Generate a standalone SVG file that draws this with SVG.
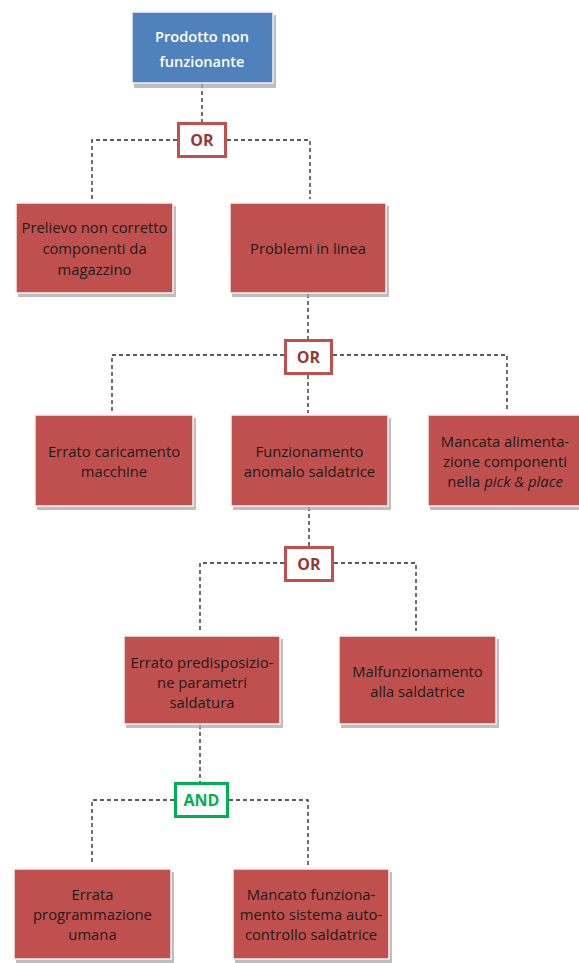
<svg xmlns="http://www.w3.org/2000/svg" width="579" height="963" viewBox="0 0 579 963">
<style>
.bg{fill:#ffffff}
.sh{fill:#a8a8a8;opacity:0.75}
.box{fill:#C0504D;stroke:#f4f4f4;stroke-width:1.5}
.top{fill:#4F81BD;stroke:#f4f4f4;stroke-width:1.5}
.t{font-family:"Open Sans","Liberation Sans",Arial,sans-serif;font-size:14.8px;fill:#1c1c1c;text-anchor:middle}
.tw{font-family:"Open Sans","Liberation Sans",Arial,sans-serif;font-size:14.6px;font-weight:600;fill:#ffffff;text-anchor:middle}
.gate{fill:#ffffff;stroke:#C0504D;stroke-width:3}
.gand{fill:#ffffff;stroke:#00B050;stroke-width:3}
.gt{font-family:"Open Sans","Liberation Sans",Arial,sans-serif;font-size:16px;font-weight:bold;fill:#953735;text-anchor:middle}
.ga{font-family:"Open Sans","Liberation Sans",Arial,sans-serif;font-size:16px;font-weight:bold;fill:#00B050;text-anchor:middle}
.c{fill:none;stroke:#262626;stroke-width:1.3;stroke-dasharray:4 3}
</style>
<rect class="bg" x="0" y="0" width="579" height="963"/>
<g id="connectors">
<path class="c" d="M202 84 V122"/>
<path class="c" d="M177 140 H92 V199"/>
<path class="c" d="M227 140 H310 V199"/>
<path class="c" d="M308 294 V339"/>
<path class="c" d="M284 355 H112 V412"/>
<path class="c" d="M333 355 H507 V409"/>
<path class="c" d="M308 375 V413"/>
<path class="c" d="M309 507 V546"/>
<path class="c" d="M284 563 H200 V631"/>
<path class="c" d="M334 563 H416 V631"/>
<path class="c" d="M200 725 V782"/>
<path class="c" d="M174 800 H92 V863"/>
<path class="c" d="M229 800 H308 V866"/>
</g>
<g id="n_top">
<rect class="sh" x="134" y="15" width="142" height="73"/>
<rect class="top" x="132" y="12" width="141" height="71"/>
<text class="tw" x="202" y="42">Prodotto non</text>
<text class="tw" x="202" y="67">funzionante</text>
</g>
<g id="g_or1">
<rect class="gate" x="178.5" y="123.5" width="47" height="33"/>
<text class="gt" x="202" y="146">OR</text>
</g>
<g id="n_prelievo">
<rect class="sh" x="18" y="206" width="158" height="91"/>
<rect class="box" x="16" y="203" width="157" height="90"/>
<text class="t" x="94.5" y="233">Prelievo non corretto</text>
<text class="t" x="94.5" y="254">componenti da</text>
<text class="t" x="94.5" y="275">magazzino</text>
</g>
<g id="n_problemi">
<rect class="sh" x="232" y="206" width="157" height="91"/>
<rect class="box" x="230" y="203" width="156" height="90"/>
<text class="t" x="308" y="254">Problemi in linea</text>
</g>
<g id="g_or2">
<rect class="gate" x="285.5" y="340.5" width="46" height="33"/>
<text class="gt" x="308.5" y="363">OR</text>
</g>
<g id="n_errato_car">
<rect class="sh" x="37" y="418" width="159" height="92"/>
<rect class="box" x="35" y="415" width="158" height="91"/>
<text class="t" x="114" y="457">Errato caricamento</text>
<text class="t" x="114" y="477">macchine</text>
</g>
<g id="n_funz">
<rect class="sh" x="233" y="418" width="158" height="92"/>
<rect class="box" x="231" y="415" width="157" height="91"/>
<text class="t" x="309.5" y="457">Funzionamento</text>
<text class="t" x="309.5" y="477">anomalo saldatrice</text>
</g>
<g id="n_mancata">
<rect class="sh" x="430" y="418" width="156" height="92"/>
<rect class="box" x="428" y="415" width="156" height="91"/>
<text class="t" x="505" y="447">Mancata alimenta-</text>
<text class="t" x="505" y="467">zione componenti</text>
<text class="t" x="505" y="487">nella <tspan font-style="italic">pick &amp; place</tspan></text>
</g>
<g id="g_or3">
<rect class="gate" x="285.5" y="547.5" width="47" height="33"/>
<text class="gt" x="309" y="570">OR</text>
</g>
<g id="n_predisp">
<rect class="sh" x="126" y="639" width="157" height="89"/>
<rect class="box" x="124" y="636" width="156" height="88"/>
<text class="t" x="202" y="668">Errato predisposizio-</text>
<text class="t" x="202" y="688">ne parametri</text>
<text class="t" x="202" y="708">saldatura</text>
</g>
<g id="n_malf">
<rect class="sh" x="341" y="639" width="158" height="89"/>
<rect class="box" x="339" y="636" width="157" height="88"/>
<text class="t" x="417.5" y="677">Malfunzionamento</text>
<text class="t" x="417.5" y="697">alla saldatrice</text>
</g>
<g id="g_and">
<rect class="gand" x="175.5" y="783.5" width="52" height="33"/>
<text class="ga" x="201.5" y="806">AND</text>
</g>
<g id="n_errata">
<rect class="sh" x="16" y="872" width="158" height="91"/>
<rect class="box" x="14" y="869" width="157" height="90"/>
<text class="t" x="92.5" y="900">Errata</text>
<text class="t" x="92.5" y="920">programmazione</text>
<text class="t" x="92.5" y="940">umana</text>
</g>
<g id="n_mancato">
<rect class="sh" x="235" y="872" width="157" height="91"/>
<rect class="box" x="233" y="869" width="156" height="90"/>
<text class="t" x="311" y="900">Mancato funziona-</text>
<text class="t" x="311" y="920">mento sistema auto-</text>
<text class="t" x="311" y="940">controllo saldatrice</text>
</g>
</svg>
